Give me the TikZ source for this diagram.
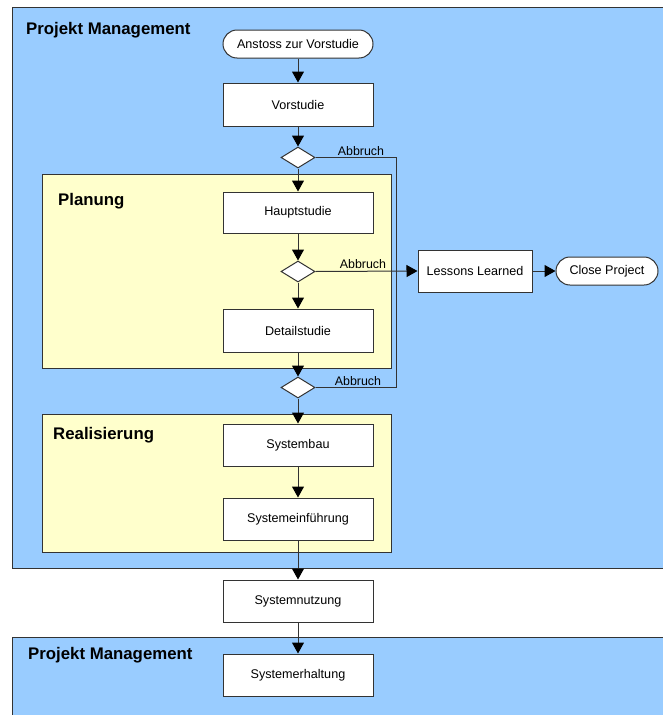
\documentclass[tikz,border=0pt]{standalone}
\usepackage{fontspec}
\setmainfont{Liberation Sans}
\usetikzlibrary{shapes.geometric,arrows.meta}
\definecolor{pmblue}{HTML}{99CCFF}
\definecolor{phaseyellow}{HTML}{FFFFCC}
\definecolor{edge}{HTML}{333333}
\tikzset{
  stepbox/.style={draw=edge, fill=white, line width=1pt, minimum width=150pt, minimum height=42pt, inner sep=0pt, font=\fontsize{12.6}{14}\selectfont},
  terminal/.style={draw=edge, fill=white, line width=1pt, rounded corners=14pt, minimum height=28pt, inner sep=0pt, font=\fontsize{12.6}{14}\selectfont},
  decision/.style={draw=edge, fill=white, line width=1pt, diamond, shape aspect=1.62, minimum width=34pt, minimum height=21pt, inner sep=0pt},
  flow/.style={draw=edge, line width=1pt, -{Triangle[length=11pt,width=12pt,color=black,fill=black]}},
  plain/.style={draw=edge, line width=1pt},
  lanetitle/.style={anchor=base west, inner sep=0pt, font=\fontsize{16.8}{19}\selectfont\bfseries},
  cancel/.style={anchor=base, inner sep=0pt, font=\fontsize{12.4}{14}\selectfont},
  region/.style={draw=edge, line width=1pt}
}
\begin{document}
\begin{tikzpicture}[x=1pt,y=-1pt]
\useasboundingbox (0,0) rectangle (662,715);

% project management lanes
\path[region, fill=pmblue] (12,7) rectangle (675,568);
\path[region, fill=pmblue] (12,637) rectangle (675,725);
\node[lanetitle] (pm1) at (26,34.5) {Projekt Management};
\node[lanetitle] (pm2) at (28,659) {Projekt Management};

% phases
\path[region, fill=phaseyellow] (42.5,174) rectangle (391,368);
\path[region, fill=phaseyellow] (42.5,414) rectangle (391,552);
\node[lanetitle] (plan) at (58,205) {Planung};
\node[lanetitle] (real) at (53,439.5) {Realisierung};

% flow nodes
\node[terminal, minimum width=150pt] (start) at (298,44) {Anstoss zur Vorstudie};
\node[stepbox, minimum height=43pt] (vor) at (298,104.5) {Vorstudie};
\node[decision] (d1) at (298,157.5) {};
\node[stepbox, minimum height=41pt] (haupt) at (298,212.5) {Hauptstudie};
\node[decision] (d2) at (298,271.5) {};
\node[stepbox, minimum height=43pt] (detail) at (298,330.5) {Detailstudie};
\node[decision] (d3) at (298,387.5) {};
\node[stepbox] (bau) at (298,445) {Systembau};
\node[stepbox] (einf) at (298,519) {Systemeinführung};
\node[stepbox] (nutz) at (298,601) {Systemnutzung};
\node[stepbox] (erh) at (298,675) {Systemerhaltung};
\node[stepbox, minimum width=114pt] (lessons) at (475,271) {Lessons Learned};
\node[terminal, minimum width=102pt] (close) at (607,271) {Close Project};

% main sequence
\draw[flow] (start) -- (vor);
\draw[flow] (vor) -- (d1);
\draw[flow] (d1) -- (haupt);
\draw[flow] (haupt) -- (d2);
\draw[flow] (d2) -- (detail);
\draw[flow] (detail) -- (d3);
\draw[flow] (d3) -- (bau);
\draw[flow] (bau) -- (einf);
\draw[flow] (einf) -- (nutz);
\draw[flow] (nutz) -- (erh);

% cancel branches
\coordinate (j1) at (396,157.5);
\coordinate (j3) at (396,387.5);
\draw[plain] (d1.east) -- (j1) -- (j3) -- (d3.east);
\draw[flow] (d2.east) -- (lessons.west);
\draw[flow] (lessons) -- (close);
\node[cancel] (a1) at (361,155) {Abbruch};
\node[cancel] (a2) at (363,268) {Abbruch};
\node[cancel] (a3) at (358,385) {Abbruch};
\end{tikzpicture}
\end{document}
